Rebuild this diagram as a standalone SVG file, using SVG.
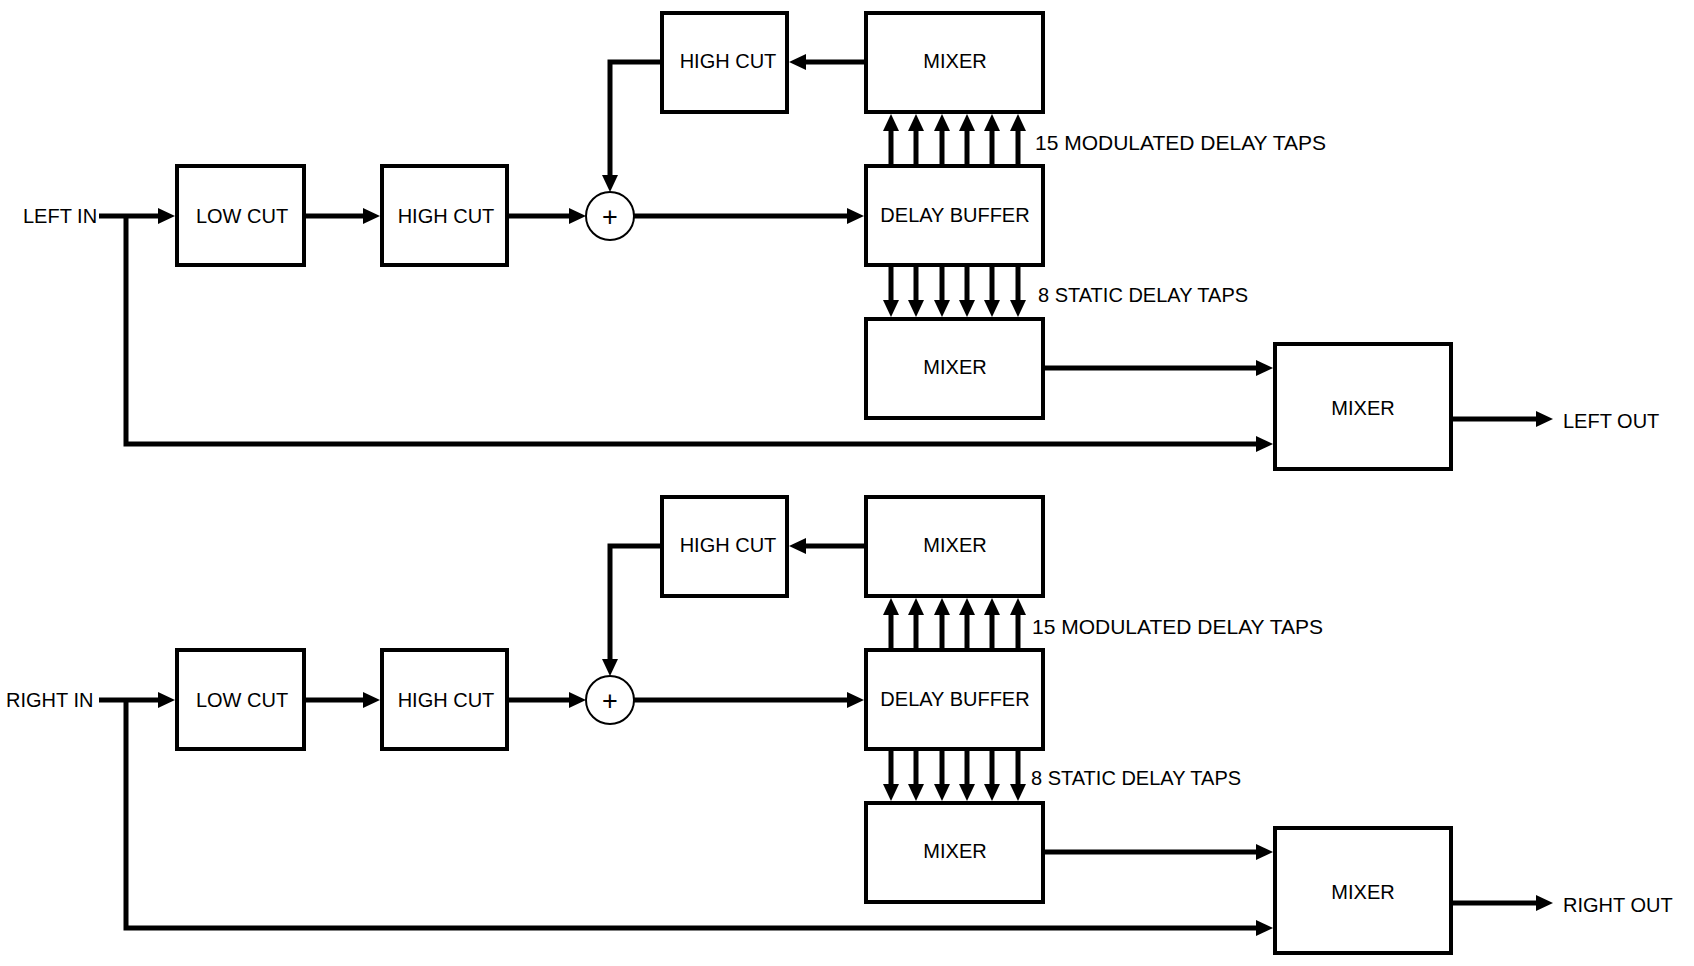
<svg xmlns="http://www.w3.org/2000/svg" width="1694" height="966" viewBox="0 0 1694 966">
<defs>
<style>
.box{fill:#fff;stroke:#000;stroke-width:4;stroke-linejoin:miter}
.sum{fill:#fff;stroke:#000;stroke-width:2}
.lbl{font-family:"Liberation Sans",Arial,sans-serif;font-size:20px;fill:#000;text-anchor:middle}
.plus{font-family:"Liberation Sans",Arial,sans-serif;font-size:27px;fill:#000;text-anchor:middle}
.txt{font-family:"Liberation Sans",Arial,sans-serif;font-size:20px;fill:#000}
.big{font-size:21px}
.w{fill:none;stroke:#000;stroke-width:5;stroke-linejoin:miter}
.a{marker-end:url(#ah)}
</style>
<marker id="ah" markerUnits="userSpaceOnUse" markerWidth="17" markerHeight="16" refX="9" refY="8" orient="auto">
<path d="M0,0 L17,8 L0,16 Z" fill="#000"/>
</marker>
</defs>
<rect width="1694" height="966" fill="#fff"/>

<g id="connectors">
<!-- top (left channel) -->
<path class="w a" d="M99,216 H167"/>
<path class="w a" d="M126,216 V444 H1265"/>
<path class="w a" d="M306,216 H372"/>
<path class="w a" d="M509,216 H578"/>
<path class="w a" d="M634,216 H856"/>
<path class="w a" d="M864,62 H797"/>
<path class="w a" d="M660,62 H610 V184"/>
<path class="w a" d="M891,164 V122"/>
<path class="w a" d="M916,164 V122"/>
<path class="w a" d="M942,164 V122"/>
<path class="w a" d="M967,164 V122"/>
<path class="w a" d="M992,164 V122"/>
<path class="w a" d="M1018,164 V122"/>
<path class="w a" d="M891,267 V309"/>
<path class="w a" d="M916,267 V309"/>
<path class="w a" d="M942,267 V309"/>
<path class="w a" d="M967,267 V309"/>
<path class="w a" d="M992,267 V309"/>
<path class="w a" d="M1018,267 V309"/>
<path class="w a" d="M1045,368 H1265"/>
<path class="w a" d="M1453,419 H1545"/>
<!-- bottom (right channel) -->
<path class="w a" d="M99,700 H167"/>
<path class="w a" d="M126,700 V928 H1265"/>
<path class="w a" d="M306,700 H372"/>
<path class="w a" d="M509,700 H578"/>
<path class="w a" d="M634,700 H856"/>
<path class="w a" d="M864,546 H797"/>
<path class="w a" d="M660,546 H610 V668"/>
<path class="w a" d="M891,648 V606"/>
<path class="w a" d="M916,648 V606"/>
<path class="w a" d="M942,648 V606"/>
<path class="w a" d="M967,648 V606"/>
<path class="w a" d="M992,648 V606"/>
<path class="w a" d="M1018,648 V606"/>
<path class="w a" d="M891,751 V793"/>
<path class="w a" d="M916,751 V793"/>
<path class="w a" d="M942,751 V793"/>
<path class="w a" d="M967,751 V793"/>
<path class="w a" d="M992,751 V793"/>
<path class="w a" d="M1018,751 V793"/>
<path class="w a" d="M1045,852 H1265"/>
<path class="w a" d="M1453,903 H1545"/>
</g>

<!-- Left channel -->
<g id="left-in"><text class="txt" x="23" y="223">LEFT IN</text></g>
<g id="left-lowcut"><rect class="box" x="177" y="166" width="127" height="99"/><text class="lbl" x="242" y="223">LOW CUT</text></g>
<g id="left-highcut"><rect class="box" x="382" y="166" width="125" height="99"/><text class="lbl" x="446" y="223">HIGH CUT</text></g>
<g id="left-sum"><circle class="sum" cx="610" cy="216" r="24"/><text class="plus" x="610" y="226">+</text></g>
<g id="left-delay"><rect class="box" x="866" y="166" width="177" height="99"/><text class="lbl" x="955" y="222">DELAY BUFFER</text></g>
<g id="left-fb-mixer"><rect class="box" x="866" y="13" width="177" height="99"/><text class="lbl" x="955" y="68">MIXER</text></g>
<g id="left-fb-highcut"><rect class="box" x="662" y="13" width="125" height="99"/><text class="lbl" x="728" y="68">HIGH CUT</text></g>
<g id="left-tap-mixer"><rect class="box" x="866" y="319" width="177" height="99"/><text class="lbl" x="955" y="374">MIXER</text></g>
<g id="left-out-mixer"><rect class="box" x="1275" y="344" width="176" height="125"/><text class="lbl" x="1363" y="415">MIXER</text></g>
<g id="left-labels">
<text class="txt big" x="1035" y="150">15 MODULATED DELAY TAPS</text>
<text class="txt" x="1038" y="302">8 STATIC DELAY TAPS</text>
</g>
<g id="left-out"><text class="txt" x="1563" y="428">LEFT OUT</text></g>

<!-- Right channel -->
<g id="right-in"><text class="txt" x="6" y="707">RIGHT IN</text></g>
<g id="right-lowcut"><rect class="box" x="177" y="650" width="127" height="99"/><text class="lbl" x="242" y="707">LOW CUT</text></g>
<g id="right-highcut"><rect class="box" x="382" y="650" width="125" height="99"/><text class="lbl" x="446" y="707">HIGH CUT</text></g>
<g id="right-sum"><circle class="sum" cx="610" cy="700" r="24"/><text class="plus" x="610" y="710">+</text></g>
<g id="right-delay"><rect class="box" x="866" y="650" width="177" height="99"/><text class="lbl" x="955" y="706">DELAY BUFFER</text></g>
<g id="right-fb-mixer"><rect class="box" x="866" y="497" width="177" height="99"/><text class="lbl" x="955" y="552">MIXER</text></g>
<g id="right-fb-highcut"><rect class="box" x="662" y="497" width="125" height="99"/><text class="lbl" x="728" y="552">HIGH CUT</text></g>
<g id="right-tap-mixer"><rect class="box" x="866" y="803" width="177" height="99"/><text class="lbl" x="955" y="858">MIXER</text></g>
<g id="right-out-mixer"><rect class="box" x="1275" y="828" width="176" height="125"/><text class="lbl" x="1363" y="899">MIXER</text></g>
<g id="right-labels">
<text class="txt big" x="1032" y="634">15 MODULATED DELAY TAPS</text>
<text class="txt" x="1031" y="785">8 STATIC DELAY TAPS</text>
</g>
<g id="right-out"><text class="txt" x="1563" y="912">RIGHT OUT</text></g>
</svg>
